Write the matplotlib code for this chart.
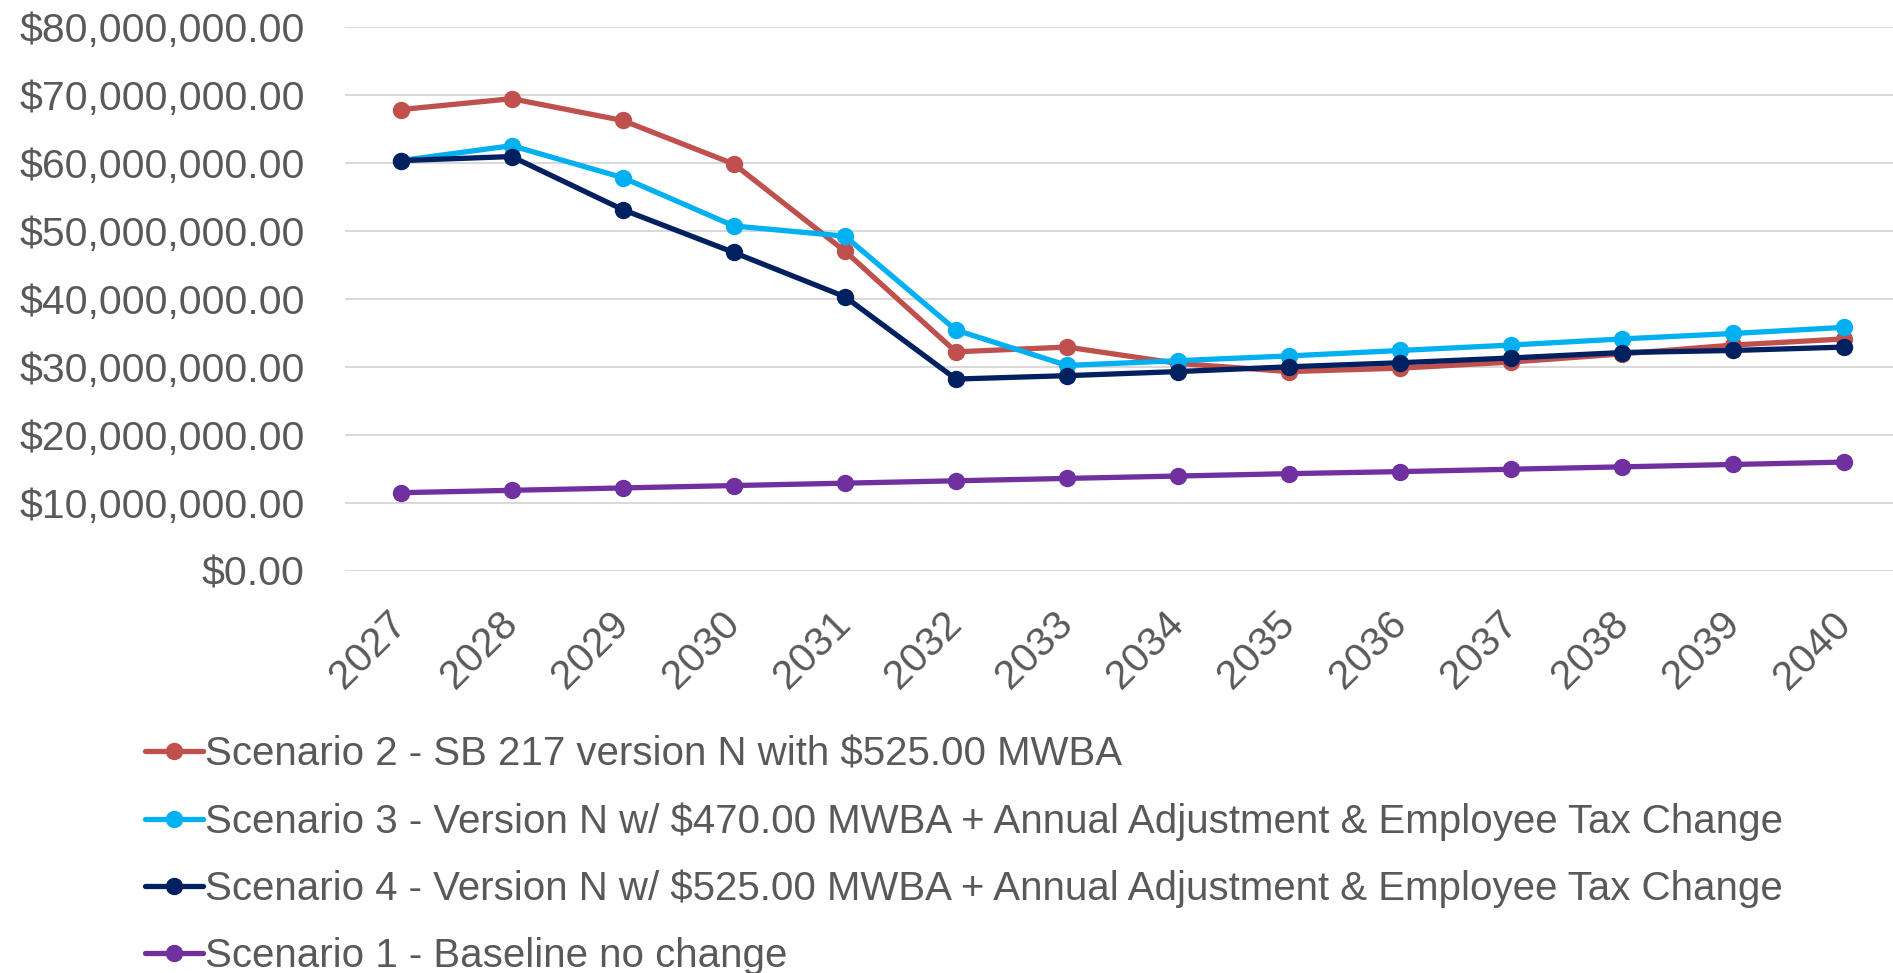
import matplotlib
matplotlib.use("Agg")
import matplotlib.pyplot as plt
from matplotlib.ticker import FuncFormatter

years = [str(y) for y in range(2027, 2041)]

scenario2 = [67.8, 69.4, 66.2, 59.8, 47.0, 32.2, 32.9, 30.5, 29.3, 29.8, 30.7, 31.9, 33.2, 34.1]
scenario3 = [60.3, 62.5, 57.8, 50.7, 49.2, 35.4, 30.2, 30.9, 31.6, 32.4, 33.2, 34.1, 34.9, 35.8]
scenario4 = [60.3, 60.9, 53.1, 46.8, 40.3, 28.2, 28.7, 29.3, 30.0, 30.6, 31.3, 32.1, 32.4, 32.9]
scenario1 = [11.5, 11.85, 12.2, 12.55, 12.9, 13.25, 13.6, 13.95, 14.3, 14.6, 14.95, 15.3, 15.65, 16.0]

labels = [
    "Scenario 2 - SB 217 version N with $525.00 MWBA",
    "Scenario 3 - Version N w/ $470.00 MWBA + Annual Adjustment & Employee Tax Change",
    "Scenario 4 - Version N w/ $525.00 MWBA + Annual Adjustment & Employee Tax Change",
    "Scenario 1 - Baseline no change",
]
colors = ["#C0504D", "#00B0F0", "#002060", "#7030A0"]

txt = "#595959"
fig = plt.figure(figsize=(18.93, 9.73), dpi=100)
ax = fig.add_axes([0.1823, 0.4132, 0.8214, 0.5595])

x = range(len(years))
for vals, lab, c in zip([scenario2, scenario3, scenario4, scenario1], labels, colors):
    ax.plot(x, [v * 1e6 for v in vals], color=c, lw=3.8, marker="o", ms=11.5,
            label=lab, solid_capstyle="round")

ax.set_xlim(-0.5, len(years) - 0.5)
ax.set_ylim(0, 80e6)
ax.set_yticks([i * 10e6 for i in range(9)])
ax.yaxis.set_major_formatter(FuncFormatter(lambda v, p: "${:,.2f}".format(v)))
ax.set_xticks(list(x))
ax.set_xticklabels(years, rotation=45, ha="right", va="center", rotation_mode="anchor")
ax.grid(axis="y", color="#D9D9D9", lw=1.5)
ax.set_axisbelow(True)
for s in ax.spines.values():
    s.set_visible(False)
ax.tick_params(axis="both", length=0, colors=txt, labelsize=29.5)
ax.tick_params(axis="y", pad=29)
ax.tick_params(axis="x", pad=34)
for t in ax.get_yticklabels() + ax.get_xticklabels():
    t.set_fontfamily(["Liberation Sans", "DejaVu Sans"])

fig.legend(loc="upper left", bbox_to_anchor=(0.0765, 0.2445), frameon=False,
           handlelength=1.45, handletextpad=0.05, labelspacing=0.72, borderpad=0,
           prop={"family": ["Liberation Sans", "DejaVu Sans"], "size": 29},
           labelcolor=txt, borderaxespad=0)

fig.savefig("out.png", dpi=100)
